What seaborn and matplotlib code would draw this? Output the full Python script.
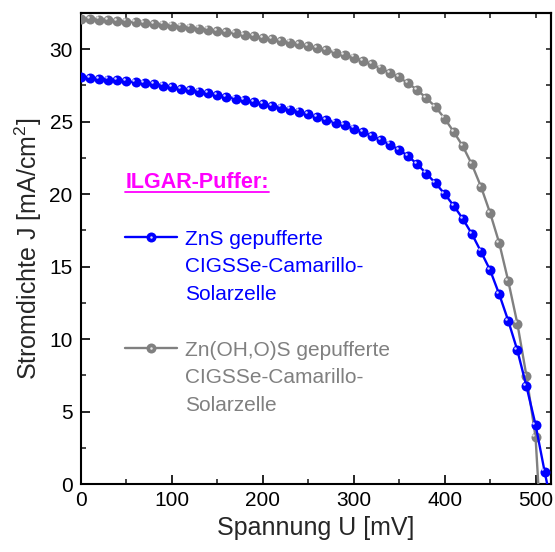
import numpy as np
import pandas as pd
import seaborn as sns
import matplotlib
matplotlib.use("Agg")
import matplotlib.pyplot as plt
from matplotlib.transforms import offset_copy
from matplotlib.legend_handler import HandlerTuple
from matplotlib.lines import Line2D
from matplotlib.ticker import MultipleLocator

# ---------------- data ----------------
voltage_zns = [0, 10, 20, 30, 40, 50, 60, 70, 80, 90,
               100, 110, 120, 130, 140, 150, 160, 170, 180, 190,
               200, 210, 220, 230, 240, 250, 260, 270, 280, 290,
               300, 310, 320, 330, 340, 350, 360, 370, 380, 390,
               400, 410, 420, 430, 440, 450, 460, 470, 480, 490,
               500, 510, 520]
current_zns = [28.05, 28.00, 27.95, 27.91, 27.86, 27.79, 27.72, 27.66, 27.59, 27.49,
               27.38, 27.27, 27.17, 27.08, 26.98, 26.86, 26.72, 26.60, 26.48, 26.36,
               26.23, 26.09, 25.97, 25.84, 25.69, 25.50, 25.30, 25.13, 24.94, 24.74,
               24.53, 24.30, 24.02, 23.73, 23.42, 23.05, 22.62, 22.05, 21.42, 20.75,
               20.02, 19.20, 18.30, 17.25, 16.03, 14.76, 13.10, 11.26, 9.22, 6.74,
               4.09, 0.85, -2.2]

voltage_znohos = [0, 10, 20, 30, 40, 50, 60, 70, 80, 90,
                  100, 110, 120, 130, 140, 150, 160, 170, 180, 190,
                  200, 210, 220, 230, 240, 250, 260, 270, 280, 290,
                  300, 310, 320, 330, 340, 350, 360, 370, 380, 390,
                  400, 410, 420, 430, 440, 450, 460, 470, 480, 490,
                  500, 510]
current_znohos = [32.11, 32.07, 32.04, 32.00, 31.95, 31.91, 31.86, 31.81, 31.76, 31.70,
                  31.63, 31.56, 31.49, 31.42, 31.35, 31.27, 31.18, 31.09, 31.00, 30.90,
                  30.79, 30.68, 30.57, 30.46, 30.33, 30.21, 30.07, 29.93, 29.77, 29.59,
                  29.42, 29.20, 28.95, 28.67, 28.37, 28.05, 27.65, 27.18, 26.62, 26.02,
                  25.22, 24.30, 23.31, 22.05, 20.51, 18.71, 16.64, 14.00, 11.07, 7.45,
                  3.24, -7.5]

label_zns_lines = ["ZnS gepufferte", "CIGSSe-Camarillo-", "Solarzelle"]
label_znohos_lines = ["Zn(OH,O)S gepufferte", "CIGSSe-Camarillo-", "Solarzelle"]
legend_title = "ILGAR-Puffer:"
x_ticks = [0, 100, 200, 300, 400, 500]
y_ticks = [0, 5, 10, 15, 20, 25, 30]
x_label = "Spannung U [mV]"
y_label = "Stromdichte J [mA/cm$^{2}$]"

color_zns = "#0000FF"
color_znohos = "#808080"
color_title = "#FF00FF"
hl_zns = "#d0d0ff"
hl_znohos = "#e6e6e6"

# ---------------- style ----------------
sns.set_theme(style="ticks")
plt.rcParams["font.family"] = ["Liberation Sans", "DejaVu Sans"]
plt.rcParams["mathtext.fontset"] = "custom"
plt.rcParams["mathtext.rm"] = "Liberation Sans"
plt.rcParams["mathtext.it"] = "Liberation Sans:italic"
plt.rcParams["mathtext.bf"] = "Liberation Sans:bold"

fig = plt.figure(figsize=(5.55, 5.52), dpi=100)
ax = fig.add_axes([81 / 555, 1 - 484 / 552, 470 / 555, 471 / 552])

df_zns = pd.DataFrame({"U": voltage_zns, "J": current_zns})
df_zno = pd.DataFrame({"U": voltage_znohos, "J": current_znohos})

ms = 7.2
lw = 1.7
hs = 1.8
sns.lineplot(data=df_zno, x="U", y="J", ax=ax, color=color_znohos, marker="o",
             markersize=ms, markeredgewidth=0, linewidth=lw, sort=False, zorder=3)
sns.lineplot(data=df_zns, x="U", y="J", ax=ax, color=color_zns, marker="o",
             markersize=ms, markeredgewidth=0, linewidth=lw, sort=False, zorder=4)

# sphere highlights (small glint up-left of each ball)
hl_tr = offset_copy(ax.transData, fig=fig, x=-2.2, y=2.2, units="dots")
ax.plot(df_zno["U"], df_zno["J"], linestyle="none", marker="o", markersize=hs,
        markerfacecolor=hl_znohos, markeredgewidth=0, transform=hl_tr, zorder=3.5)
ax.plot(df_zns["U"], df_zns["J"], linestyle="none", marker="o", markersize=hs,
        markerfacecolor=hl_zns, markeredgewidth=0, transform=hl_tr, zorder=4.5)

ax.set_xlim(0, 517)
ax.set_ylim(0, 32.5)
ax.set_xticks(x_ticks)
ax.set_yticks(y_ticks)
ax.xaxis.set_minor_locator(MultipleLocator(50))
ax.yaxis.set_minor_locator(MultipleLocator(2.5))
ax.tick_params(axis="both", which="major", direction="in", length=6.5, width=1.2,
               labelsize=15, colors="black")
ax.tick_params(axis="both", which="minor", direction="in", length=3.3, width=1.2)
ax.tick_params(axis="x", which="major", pad=5)
ax.tick_params(axis="y", which="major", pad=6)
for s in ax.spines.values():
    s.set_linewidth(1.5)
    s.set_color("black")
    s.set_visible(True)

secx = ax.secondary_xaxis("top")
secx.xaxis.set_major_locator(MultipleLocator(50))
secx.tick_params(axis="x", direction="in", length=3.3, width=1.2, labeltop=False, labelbottom=False)
secx.spines["top"].set_linewidth(1.5)
secy = ax.secondary_yaxis("right")
secy.yaxis.set_major_locator(MultipleLocator(2.5))
secy.tick_params(axis="y", direction="in", length=3.3, width=1.2, labelright=False, labelleft=False)
secy.spines["right"].set_linewidth(1.5)

ax.set_xlabel(x_label, fontsize=18, labelpad=4)
ax.set_ylabel(y_label, fontsize=18, labelpad=4)

# legend: one row per text line, handle on the first line of each entry
def ball_handle(color, hl):
    return (Line2D([], [], color=color, linewidth=lw, marker="o", markersize=ms, markeredgewidth=0),
            Line2D([], [], linestyle="none", marker="o", markersize=hs, markerfacecolor=hl, markeredgewidth=0))

blank = Line2D([], [], linestyle="none", alpha=0)
handles = [blank, ball_handle(color_zns, hl_zns), blank, blank, blank,
           ball_handle(color_znohos, hl_znohos), blank, blank]
labels = [" "] + label_zns_lines + [" "] + label_znohos_lines
colors = ["white"] + [color_zns] * 3 + ["white"] + [color_znohos] * 3

leg = ax.legend(handles, labels,
                handler_map={tuple: HandlerTuple(ndivide=1)},
                title=legend_title, alignment="left", frameon=False,
                loc="upper left", bbox_to_anchor=(0.094, 0.662),
                borderaxespad=0, borderpad=0, fontsize=15,
                handlelength=2.5, handletextpad=0.35, labelspacing=0.42,
                title_fontproperties={"weight": "bold", "size": 15.5})
leg.get_title().set_color(color_title)
for t, c in zip(leg.get_texts(), colors):
    t.set_color(c)

fig.canvas.draw()
bb = leg.get_title().get_window_extent(fig.canvas.get_renderer())
inv = fig.transFigure.inverted()
(x0, y0), (x1, _) = inv.transform([(bb.x0, bb.y0 + 1.5), (bb.x1, bb.y0 + 1.5)])
fig.add_artist(Line2D([x0, x1], [y0, y0], color=color_title, linewidth=1.3,
                      transform=fig.transFigure))

fig.savefig("out.png", dpi=100)
